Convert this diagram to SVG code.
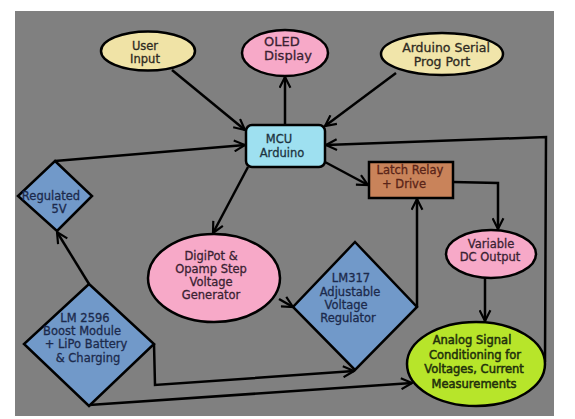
<svg xmlns="http://www.w3.org/2000/svg" width="575" height="419" viewBox="0 0 575 419">
<style>
.s{stroke:#000;stroke-width:2.5}
.t{font-family:"DejaVu Sans","Liberation Sans",sans-serif;font-size:11.5px;text-anchor:middle;stroke-width:0.3}
.c{fill:none;stroke:#000;stroke-width:2.5}
</style>
<defs>
<marker id="arr" viewBox="0 0 12 12" refX="11" refY="6" markerWidth="13" markerHeight="13" orient="auto" markerUnits="userSpaceOnUse">
<path d="M1,1 L11,6 L1,11" fill="none" stroke="#000" stroke-width="2"/>
</marker>
</defs>
<rect x="0" y="0" width="575" height="419" fill="#ffffff"/>
<rect x="15" y="11" width="539" height="405" fill="#808080"/>
<g id="connectors">
<path class="c" marker-end="url(#arr)" d="M172,70 L245,130"/>
<path class="c" marker-end="url(#arr)" d="M285,125 L285,77"/>
<path class="c" marker-end="url(#arr)" d="M396,73 L325,126"/>
<path class="c" marker-end="url(#arr)" d="M55,161 L245,145"/>
<path class="c" marker-end="url(#arr)" d="M545,362 L546,137 L326,145"/>
<path class="c" marker-end="url(#arr)" d="M248,167 L213,233"/>
<path class="c" marker-end="url(#arr)" d="M325,162 L368,185"/>
<path class="c" marker-end="url(#arr)" d="M453,182 L498,183 L498,229"/>
<path class="c" marker-end="url(#arr)" d="M417,307 L417,199"/>
<path class="c" marker-end="url(#arr)" d="M279,299 L293,307"/>
<path class="c" marker-end="url(#arr)" d="M485,278 L485,321"/>
<path class="c" marker-end="url(#arr)" d="M89,284 L57,232"/>
<path class="c" marker-end="url(#arr)" d="M154,344 L155,385 L354,371"/>
<path class="c" marker-end="url(#arr)" d="M89,405 L412,383"/>
</g>
<g id="user-input">
<ellipse class="s" cx="148" cy="51" rx="47" ry="19.5" fill="#f0e3a6"/>
<text class="t" fill="#2e2a22" stroke="#2e2a22"><tspan x="145" y="50">User</tspan><tspan x="145" y="63">Input</tspan></text>
</g>
<g id="oled-display">
<ellipse class="s" cx="285" cy="53" rx="43" ry="23" fill="#f7a9c8"/>
<text class="t" fill="#3a2232" stroke="#3a2232" style="font-size:13px;text-anchor:start"><tspan x="264" y="46">OLED</tspan><tspan x="264" y="60">Display</tspan></text>
</g>
<g id="arduino-serial">
<ellipse class="s" cx="442" cy="54" rx="61" ry="21" fill="#f1e5aa"/>
<text class="t" fill="#2e2a22" stroke="#2e2a22" style="font-size:12.5px"><tspan x="446" y="52">Arduino Serial</tspan><tspan x="442" y="66">Prog Port</tspan></text>
</g>
<g id="mcu">
<rect class="s" x="246" y="125" width="79" height="42" rx="6" fill="#9ee0f0"/>
<text class="t" fill="#1d3340" stroke="#1d3340"><tspan x="279" y="143">MCU</tspan><tspan x="282" y="157">Arduino</tspan></text>
</g>
<g id="latch-relay">
<rect class="s" x="369" y="162" width="84" height="36" fill="#c9835a"/>
<text class="t" fill="#5a2418" stroke="#5a2418"><tspan x="410" y="174">Latch Relay</tspan><tspan x="404" y="188">+ Drive</tspan></text>
</g>
<g id="regulated-5v">
<polygon class="s" points="55,161 92,196 57,231 18,196" fill="#7199c9"/>
<text class="t" fill="#1c2a4c" stroke="#1c2a4c"><tspan x="51" y="200">Regulated</tspan><tspan x="59" y="213">5V</tspan></text>
</g>
<g id="digipot">
<ellipse class="s" cx="214" cy="278" rx="66" ry="44" fill="#f7a9c8"/>
<text class="t" fill="#3a2232" stroke="#3a2232"><tspan x="211" y="260">DigiPot &amp;</tspan><tspan x="211" y="273">Opamp Step</tspan><tspan x="211" y="286">Voltage</tspan><tspan x="211" y="299">Generator</tspan></text>
</g>
<g id="lm2596">
<polygon class="s" points="89,284 154,344 89,406 24,344" fill="#7199c9"/>
<text class="t" fill="#1c2a4c" stroke="#1c2a4c"><tspan x="85" y="322">LM 2596</tspan><tspan x="82" y="335">Boost Module</tspan><tspan x="86" y="348">+ LiPo Battery</tspan><tspan x="88" y="362">&amp; Charging</tspan></text>
</g>
<g id="lm317">
<polygon class="s" points="355,242 417,307 355,370 293,307" fill="#7199c9"/>
<text class="t" fill="#1c2a4c" stroke="#1c2a4c"><tspan x="351" y="282">LM317</tspan><tspan x="350" y="296">Adjustable</tspan><tspan x="346" y="309">Voltage</tspan><tspan x="348" y="322">Regulator</tspan></text>
</g>
<g id="variable-dc">
<ellipse class="s" cx="491" cy="254" rx="45" ry="24" fill="#f7a9c8"/>
<text class="t" fill="#3a2232" stroke="#3a2232"><tspan x="491" y="248">Variable</tspan><tspan x="490" y="261">DC Output</tspan></text>
</g>
<g id="analog-signal">
<ellipse class="s" cx="476" cy="364" rx="69" ry="42" fill="#b7e52a"/>
<text class="t" fill="#22300c" stroke="#22300c" style="stroke-width:0.5"><tspan x="472" y="344">Analog Signal</tspan><tspan x="475" y="359">Conditioning for</tspan><tspan x="474" y="373">Voltages, Current</tspan><tspan x="474" y="388">Measurements</tspan></text>
</g>
</svg>
